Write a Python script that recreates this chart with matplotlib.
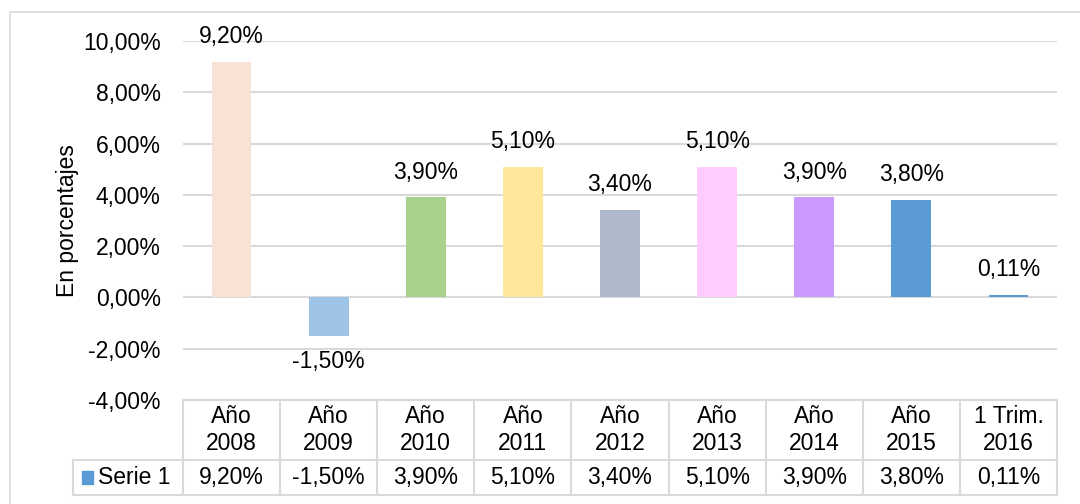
import matplotlib
matplotlib.use("Agg")
from matplotlib import pyplot as plt
from matplotlib.patches import Rectangle
from matplotlib.lines import Line2D
from matplotlib.transforms import blended_transform_factory

plt.rcParams['font.family'] = ['Liberation Sans', 'DejaVu Sans']

# Growth per period (percent)
categories = ["Año\n2008", "Año\n2009", "Año\n2010", "Año\n2011", "Año\n2012",
              "Año\n2013", "Año\n2014", "Año\n2015", "1 Trim.\n2016"]
values = [9.20, -1.50, 3.90, 5.10, 3.40, 5.10, 3.90, 3.80, 0.11]
bar_colors = ["#F8E2D6", "#9DC3E6", "#A9D18E", "#FFE699", "#ADB9CA",
              "#FFCCFF", "#CC99FF", "#5B9BD5", "#5B9BD5"]
series_name = "Serie 1"
series_color = "#5B9BD5"
y_ticks = [-4, -2, 0, 2, 4, 6, 8, 10]

GRID = "#D9D9D9"
FS = 16.5
W, H = 1080, 504


def pct(v):
    return f"{v:.2f}%".replace(".", ",")


def main() -> None:
    fig = plt.figure(figsize=(W / 100, H / 100), dpi=100)
    ax = fig.add_axes([183 / W, (H - 400) / H, (1057 - 183) / W, (400 - 41) / H])

    # outer chart border
    fig.add_artist(Rectangle((10 / W, -0.05), 1.1, (H - 12) / H + 0.05,
                             transform=fig.transFigure, fill=False,
                             edgecolor=GRID, lw=1.2))

    x = list(range(len(values)))
    ax.bar(x, values, width=0.41, color=bar_colors, zorder=3)
    for xi, v in zip(x, values):
        if v >= 0:
            ax.annotate(pct(v), (xi, v), xytext=(0, 10), textcoords="offset points",
                        ha="center", va="bottom", fontsize=FS)
        else:
            ax.annotate(pct(v), (xi, v), xytext=(0, -10), textcoords="offset points",
                        ha="center", va="top", fontsize=FS)

    ax.set_xlim(-0.5, len(values) - 0.5)
    ax.set_ylim(-4, 10)
    ax.set_yticks(y_ticks)
    ax.set_yticklabels([pct(t) for t in y_ticks], fontsize=FS)
    ax.tick_params(axis="y", length=0, pad=16)
    ax.set_xticks([])
    ax.yaxis.grid(True, color=GRID, lw=1.5, zorder=0)
    for s in ax.spines.values():
        s.set_visible(False)
    ax.set_ylabel("En porcentajes", fontsize=FS, labelpad=3)

    # data table under the plot area
    tr = blended_transform_factory(ax.transData, ax.transAxes)
    h_head = 60 / 359
    h_row = 35 / 359
    y0, y1, y2 = 0, -h_head, -h_head - h_row
    left = -0.5 - 110 / 97.1
    right = len(values) - 0.5

    def line(xs, ys):
        ax.add_line(Line2D(xs, ys, transform=tr, color=GRID, lw=1.5, clip_on=False))

    line([-0.5, right], [y0, y0])
    line([left, right], [y1, y1])
    line([left, right], [y2, y2])
    line([left, left], [y1, y2])
    for i in range(len(values) + 1):
        line([i - 0.5, i - 0.5], [y0, y2])

    for xi, (cat, v) in enumerate(zip(categories, values)):
        ax.text(xi, (y0 + y1) / 2, cat, transform=tr, ha="center", va="center",
                fontsize=FS, linespacing=1.25)
        ax.text(xi, (y1 + y2) / 2, pct(v), transform=tr, ha="center", va="center",
                fontsize=FS)

    ax.add_patch(Rectangle((left + 0.09, (y1 + y2) / 2 - 0.018), 0.12, 0.036,
                           transform=tr, color=series_color, clip_on=False))
    ax.text(left + 0.26, (y1 + y2) / 2, series_name, transform=tr, ha="left",
            va="center", fontsize=FS)

    fig.savefig("out.png", dpi=100)


if __name__ == "__main__":
    main()
